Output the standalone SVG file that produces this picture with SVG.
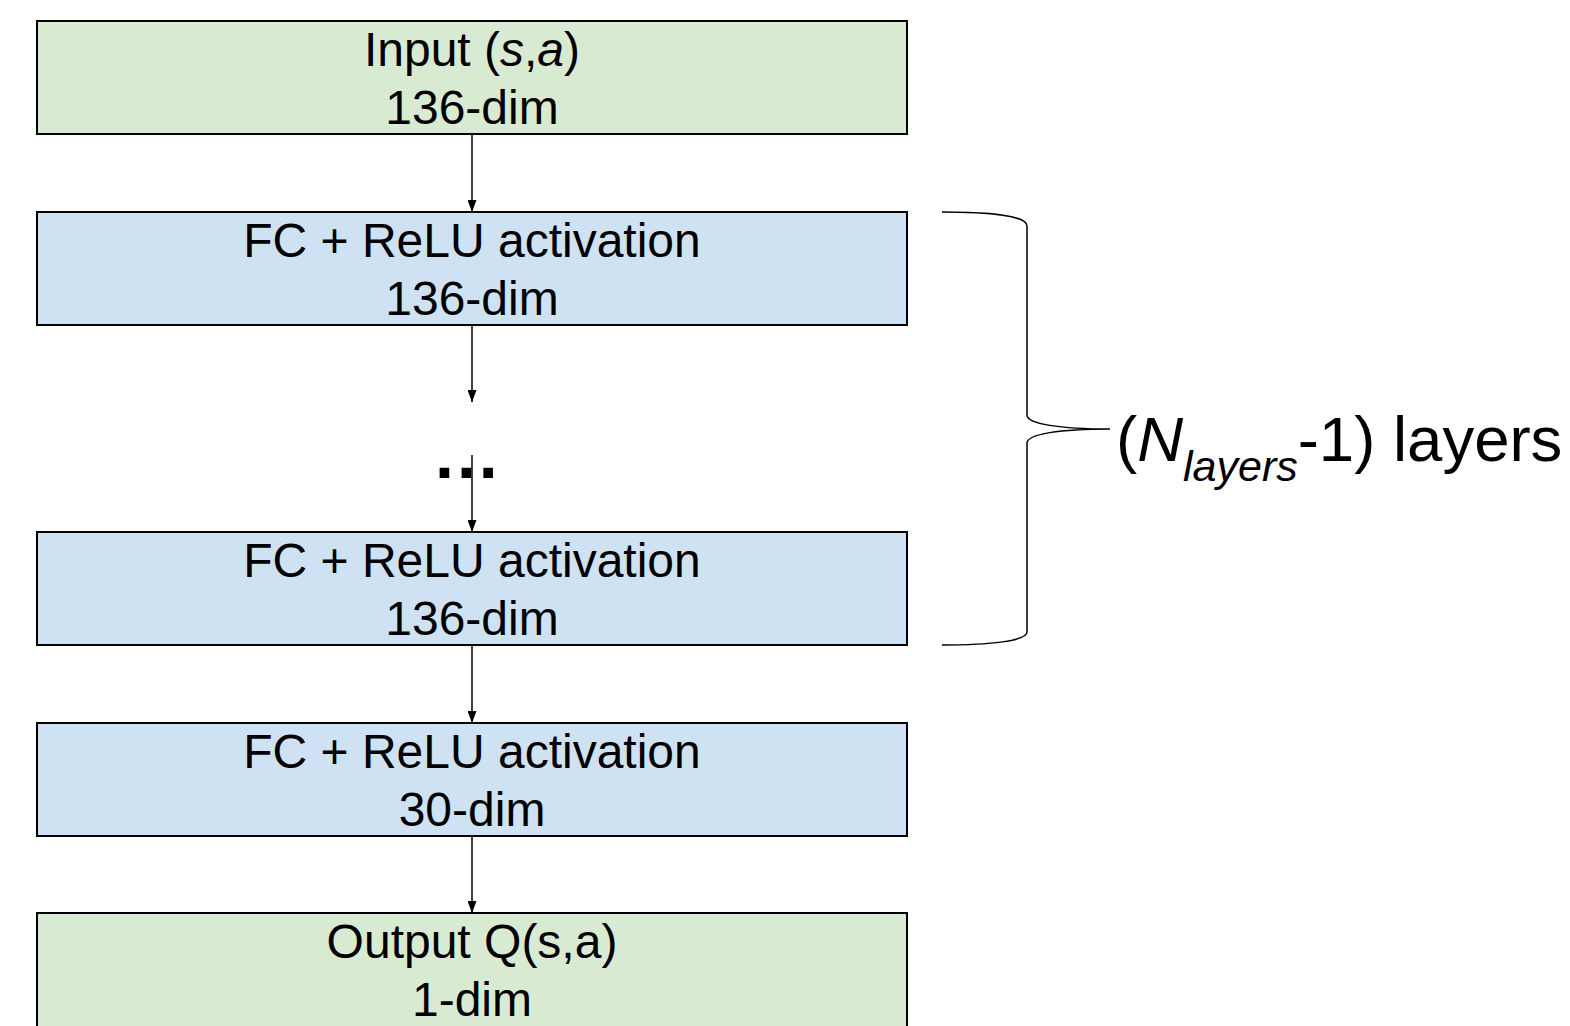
<svg xmlns="http://www.w3.org/2000/svg" width="1570" height="1026" viewBox="0 0 1570 1026">
<style>
.box{stroke:#000;stroke-width:2}
.g{fill:#d9ead3}
.b{fill:#cfe2f3}
.t{font-family:"Liberation Sans",Arial,sans-serif;font-size:48px;fill:#000;text-anchor:middle}
.c{stroke:#000;stroke-width:1.5;fill:none}
.lbl{font-family:"Liberation Sans",Arial,sans-serif;font-size:63.5px;fill:#000}
</style>
<defs>
<marker id="ah" viewBox="0 0 12 9" refX="12" refY="4.5" markerWidth="12" markerHeight="9" markerUnits="userSpaceOnUse" orient="auto">
<path d="M0,0 L12,4.5 L0,9 Z" fill="#000"/>
</marker>
</defs>
<rect width="1570" height="1026" fill="#fff"/>
<g id="input">
<rect class="box g" x="37" y="21" width="870" height="113"/>
<text class="t" x="472" y="66">Input (<tspan font-style="italic">s</tspan>,<tspan font-style="italic">a</tspan>)</text>
<text class="t" x="472" y="124">136-dim</text>
</g>
<g id="fc1">
<rect class="box b" x="37" y="212" width="870" height="113"/>
<text class="t" x="472" y="257">FC + ReLU activation</text>
<text class="t" x="472" y="315">136-dim</text>
</g>
<g id="ellipsis">
<text x="435" y="478" font-family="Liberation Sans,Arial,sans-serif" font-weight="bold" font-size="68" letter-spacing="3">...</text>
</g>
<g id="fc2">
<rect class="box b" x="37" y="532" width="870" height="113"/>
<text class="t" x="472" y="577">FC + ReLU activation</text>
<text class="t" x="472" y="635">136-dim</text>
</g>
<g id="fc3">
<rect class="box b" x="37" y="723" width="870" height="113"/>
<text class="t" x="472" y="768">FC + ReLU activation</text>
<text class="t" x="472" y="826">30-dim</text>
</g>
<g id="output">
<rect class="box g" x="37" y="913" width="870" height="125"/>
<text class="t" x="472" y="958">Output Q(s,a)</text>
<text class="t" x="472" y="1016">1-dim</text>
</g>
<g id="brace">
<path class="c" d="M942,212 C990,212 1027,216 1027,226 L1027,415 C1027,424 1060,429 1110,429 C1060,429 1027,434 1027,443 L1027,632 C1027,641 990,645 942,645"/>
<text class="lbl" x="1116" y="461">(<tspan font-style="italic">N</tspan><tspan font-style="italic" font-size="43" dy="20">layers</tspan><tspan dy="-20">-1) layers</tspan></text>
</g>
<g id="connectors">
<line class="c" x1="472" y1="134" x2="472" y2="212" marker-end="url(#ah)"/>
<line class="c" x1="472" y1="325" x2="472" y2="402" marker-end="url(#ah)"/>
<line class="c" x1="472" y1="455" x2="472" y2="532" marker-end="url(#ah)"/>
<line class="c" x1="472" y1="645" x2="472" y2="723" marker-end="url(#ah)"/>
<line class="c" x1="472" y1="836" x2="472" y2="913" marker-end="url(#ah)"/>
</g>
</svg>
